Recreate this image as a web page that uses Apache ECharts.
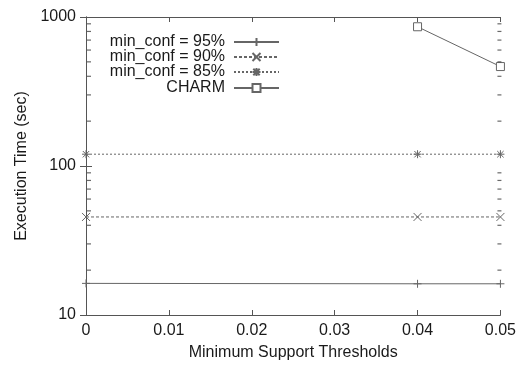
<!DOCTYPE html>
<html><head><meta charset="utf-8">
<script src="https://cdn.jsdelivr.net/npm/echarts@6/dist/echarts.min.js"></script>
<style>html,body{margin:0;padding:0;background:#fff}#c{width:519px;height:366px}</style>
</head><body><div id="c"></div>
<script>
var xTicks = [0, 0.01, 0.02, 0.03, 0.04, 0.05];
var yMinorTicks = [20,30,40,50,60,70,80,90,200,300,400,500,600,700,800,900];
var seriesNames = ['min_conf = 95%', 'min_conf = 90%', 'min_conf = 85%', 'CHARM'];
var conf95 = [[0, 16.3], [0.04, 16.2], [0.05, 16.2]];
var conf90 = [[0, 45.5], [0.04, 45.5], [0.05, 45.5]];
var conf85 = [[0, 120], [0.04, 120], [0.05, 120]];
var charm = [[0.04, 860], [0.05, 465]];

var ax = '#555', ln = '#666', txt = '#1a1a1a';
var FONT = 'Liberation Sans';
var plusP = 'path://M5,0L5,10M0,5L10,5';
var xP = 'path://M0,0L10,10M0,10L10,0';
var starP = 'path://M5,0L5,10M0,5L10,5M1,1L9,9M1,9L9,1';
var sqP = 'path://M0,0L10,0L10,10L0,10Z';

function mkSeries(name, data, sym, size, dash, fill) {
  return {
    name: name, type: 'line', data: data, symbol: sym, symbolSize: size,
    showAllSymbol: true, animation: false,
    lineStyle: {color: ln, width: 1, type: dash},
    itemStyle: {color: fill, borderColor: ln, borderWidth: 1}
  };
}
var series = [
  mkSeries(seriesNames[0], conf95, plusP, 8, 'solid', 'none'),
  mkSeries(seriesNames[1], conf90, xP, 8, [3, 2], 'none'),
  mkSeries(seriesNames[2], conf85, starP, 8, [2, 2], 'none'),
  mkSeries(seriesNames[3], charm, sqP, 8, 'solid', '#fff')
];
// minor log ticks drawn through the axis scale (left and right frame)
var minorData = [];
yMinorTicks.forEach(function(v){
  minorData.push({value: [0, v], symbolOffset: [3, 0]});
  minorData.push({value: [0.05, v], symbolOffset: [-1, 0]});
});
series.push({type: 'scatter', name: 'minor', clip: false, data: minorData,
  symbol: 'rect', symbolSize: [4, 1.2], itemStyle: {color: '#444'},
  silent: true, animation: false, z: 10});

var legendTops = [34, 49, 64, 80];
var legends = seriesNames.map(function(n, i){
  return {data: [n], right: 239, top: legendTops[i], orient: 'vertical', align: 'right',
    itemWidth: 45, itemHeight: 10, itemGap: 0, padding: 0,
    textStyle: {fontFamily: FONT, fontSize: 16, color: txt, padding: [0, 4, 0, 0]},
    selectedMode: false};
});

var chart = echarts.init(document.getElementById('c'), null, {renderer: 'canvas'});
chart.setOption({
  animation: false,
  backgroundColor: '#fff',
  grid: {left: 86, right: 17, top: 17, bottom: 49},
  legend: legends,
  xAxis: [{
    type: 'value', min: 0, max: 0.05, interval: 0.01,
    name: 'Minimum Support Thresholds', nameLocation: 'middle', nameGap: 30,
    nameTextStyle: {fontFamily: FONT, fontSize: 16, color: txt},
    axisLine: {lineStyle: {color: ax, width: 1}},
    axisTick: {inside: true, length: 5, lineStyle: {color: ax}},
    axisLabel: {fontFamily: FONT, fontSize: 16, color: txt, margin: 8,
      formatter: function(v){ return xTicks.indexOf(v) >= 0 ? String(v) : ''; }},
    splitLine: {show: false}
  }, {
    type: 'value', min: 0, max: 0.05, interval: 0.01, position: 'top',
    axisLine: {show: true, lineStyle: {color: ax, width: 1}},
    axisTick: {inside: true, length: 5, lineStyle: {color: ax}},
    axisLabel: {show: false}, splitLine: {show: false}
  }],
  yAxis: [{
    type: 'log', logBase: 10, min: 10, max: 1000,
    name: 'Execution Time (sec)', nameLocation: 'middle', nameGap: 56,
    nameTextStyle: {fontFamily: FONT, fontSize: 16, color: txt},
    axisLine: {show: true, lineStyle: {color: ax, width: 1}},
    axisTick: {inside: true, length: 6, lineStyle: {color: ax}},
    axisLabel: {fontFamily: FONT, fontSize: 16, color: txt, margin: 10,
      formatter: function(v){ return String(Math.round(v)); }},
    splitLine: {show: false}
  }, {
    type: 'log', logBase: 10, min: 10, max: 1000, position: 'right',
    axisLine: {show: true, lineStyle: {color: ax, width: 1}},
    axisTick: {inside: true, length: 6, lineStyle: {color: ax}},
    axisLabel: {show: false}, splitLine: {show: false}
  }],
  series: series
});
</script></body></html>
